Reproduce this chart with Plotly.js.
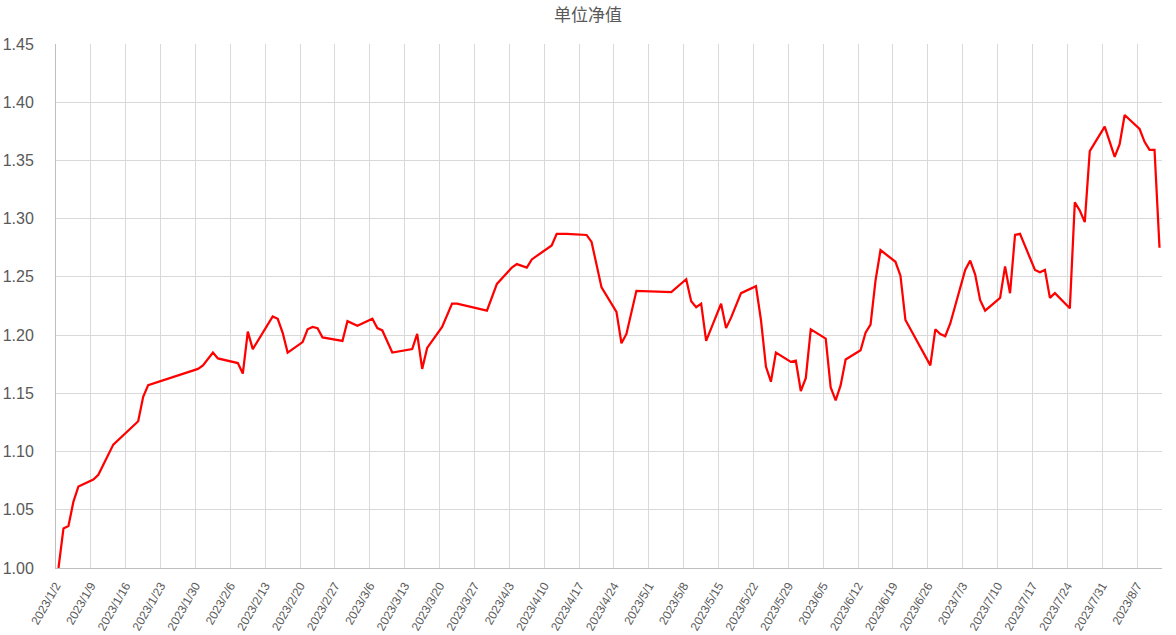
<!DOCTYPE html>
<html>
<head>
<meta charset="utf-8">
<script src="https://cdn.plot.ly/plotly-3.0.1.min.js"></script>
<style>
  html, body { margin: 0; padding: 0; background: #ffffff; }
  #chart { width: 1176px; height: 635px; }
</style>
</head>
<body>
<div id="chart"></div>
<script>
// ---- data ----
const titleText = "单位净值";
const dates = [
  "2023-01-02","2023-01-03","2023-01-04","2023-01-05","2023-01-06","2023-01-09","2023-01-10","2023-01-13",
  "2023-01-18","2023-01-19","2023-01-20","2023-01-30","2023-01-31","2023-02-02","2023-02-03","2023-02-07",
  "2023-02-08","2023-02-09","2023-02-10","2023-02-14","2023-02-15","2023-02-16","2023-02-17","2023-02-20",
  "2023-02-21","2023-02-22","2023-02-23","2023-02-24","2023-02-28","2023-03-01","2023-03-03","2023-03-06",
  "2023-03-07","2023-03-08","2023-03-10","2023-03-14","2023-03-15","2023-03-16","2023-03-17","2023-03-20",
  "2023-03-22","2023-03-23","2023-03-29","2023-03-31","2023-04-03","2023-04-04","2023-04-06","2023-04-07",
  "2023-04-11","2023-04-12","2023-04-14","2023-04-18","2023-04-19","2023-04-21","2023-04-24","2023-04-25",
  "2023-04-26","2023-04-28","2023-05-05","2023-05-08","2023-05-09","2023-05-10","2023-05-11","2023-05-12",
  "2023-05-15","2023-05-16","2023-05-17","2023-05-19","2023-05-22","2023-05-23","2023-05-24","2023-05-25",
  "2023-05-26","2023-05-29","2023-05-30","2023-05-31","2023-06-01","2023-06-02","2023-06-05","2023-06-06",
  "2023-06-07","2023-06-08","2023-06-09","2023-06-12","2023-06-13","2023-06-14","2023-06-15","2023-06-16",
  "2023-06-19","2023-06-20","2023-06-21","2023-06-26","2023-06-27","2023-06-28","2023-06-29","2023-06-30",
  "2023-07-03","2023-07-04","2023-07-05","2023-07-06","2023-07-07","2023-07-10","2023-07-11","2023-07-12",
  "2023-07-13","2023-07-14","2023-07-17","2023-07-18","2023-07-19","2023-07-20","2023-07-21","2023-07-24",
  "2023-07-25","2023-07-26","2023-07-27","2023-07-28","2023-07-31","2023-08-02","2023-08-03","2023-08-04",
  "2023-08-07","2023-08-08","2023-08-09","2023-08-10","2023-08-11"
];
const nav = [
  1.000,1.034,1.036,1.057,1.070,1.076,1.080,1.106,
  1.126,1.147,1.157,1.171,1.174,1.185,1.180,1.176,
  1.167,1.203,1.188,1.216,1.214,1.202,1.185,1.194,
  1.205,1.207,1.206,1.198,1.195,1.212,1.208,1.214,
  1.206,1.204,1.185,1.188,1.201,1.171,1.189,1.207,
  1.227,1.227,1.221,1.244,1.258,1.261,1.258,1.265,
  1.277,1.287,1.287,1.286,1.280,1.241,1.220,1.193,
  1.201,1.238,1.237,1.248,1.229,1.224,1.227,1.195,
  1.227,1.206,1.215,1.236,1.242,1.213,1.173,1.160,
  1.185,1.177,1.178,1.152,1.163,1.205,1.197,1.155,
  1.144,1.157,1.179,1.187,1.202,1.209,1.247,1.273,
  1.263,1.251,1.213,1.174,1.205,1.201,1.199,1.210,
  1.256,1.264,1.252,1.230,1.221,1.232,1.259,1.236,
  1.286,1.287,1.256,1.254,1.256,1.232,1.236,1.223,
  1.314,1.307,1.297,1.358,1.379,1.353,1.364,1.389,
  1.377,1.366,1.359,1.359,1.275
];
const xStart = "2023-01-02";
const xEnd = "2023-08-12";
const yMin = 1.00, yMax = 1.45, yStep = 0.05;

const DAY = 86400000;
const gray = "#595959";
const grid = "#d9d9d9";

const trace = {
  type: "scatter",
  mode: "lines",
  x: dates,
  y: nav,
  xperiod: DAY,
  xperiodalignment: "middle",
  line: { color: "#ff0000", width: 2.25 },
  hoverinfo: "x+y",
  showlegend: false
};

const layout = {
  width: 1176,
  height: 635,
  margin: { l: 56, r: 14, t: 44, b: 67, pad: 0 },
  paper_bgcolor: "#ffffff",
  plot_bgcolor: "#ffffff",
  showlegend: false,
  title: {
    text: titleText,
    x: 0.5, xanchor: "center",
    y: 1, yref: "paper", yanchor: "bottom",
    pad: { b: 23 },
    font: { family: "Noto Sans CJK SC, sans-serif", size: 17, color: gray }
  },
  xaxis: {
    type: "date",
    range: [xStart, xEnd],
    tick0: xStart,
    dtick: 7 * DAY,
    tickformat: "%Y/%-m/%-d",
    tickangle: -60,
    ticks: "",
    ticklabelstandoff: 5,
    showgrid: true,
    gridcolor: grid,
    gridwidth: 1,
    showline: true,
    linecolor: "#bfbfbf",
    linewidth: 1,
    zeroline: false,
    tickfont: { family: "Liberation Sans, Arial, sans-serif", size: 12, color: gray },
    fixedrange: true
  },
  yaxis: {
    range: [yMin, yMax],
    tick0: yMin,
    dtick: yStep,
    tickformat: ".2f",
    ticks: "",
    ticklabelstandoff: 18,
    showgrid: true,
    gridcolor: grid,
    gridwidth: 1,
    showline: true,
    linecolor: "#bfbfbf",
    linewidth: 1,
    zeroline: false,
    tickfont: { family: "Liberation Sans, Arial, sans-serif", size: 16, color: gray },
    fixedrange: true
  }
};

Plotly.newPlot("chart", [trace], layout, { displayModeBar: false, staticPlot: true });
</script>
</body>
</html>
